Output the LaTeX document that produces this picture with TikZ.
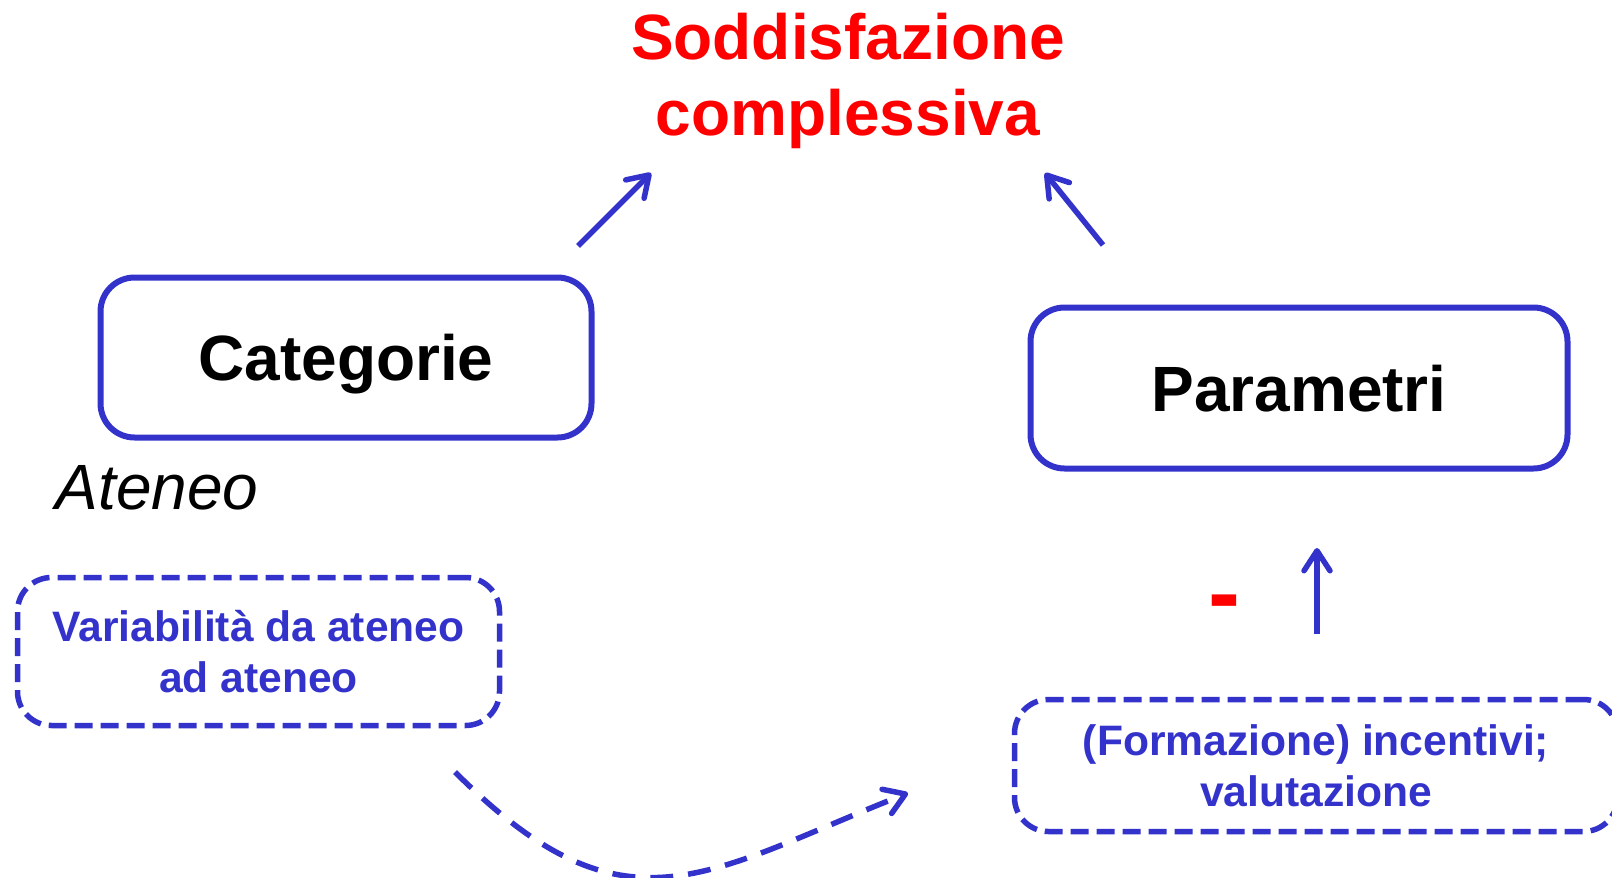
\documentclass[tikz,border=0pt]{standalone}
\usepackage{fontspec}
\setmainfont{Liberation Sans}
\usetikzlibrary{arrows.meta}
\definecolor{lineblue}{RGB}{51,51,204}
\newcommand{\hugebold}{\fontsize{64}{76}\selectfont\bfseries}
\newcommand{\hugeital}{\fontsize{64}{76}\selectfont\itshape}
\newcommand{\smallbold}{\fontsize{42.6}{51}\selectfont\bfseries}

\begin{document}
\begin{tikzpicture}[x=1pt,y=-1pt,
  box/.style={draw=lineblue, line width=6pt, rounded corners=34pt, inner sep=0pt,
    font=\hugebold, text height=46pt, text depth=0pt},
  dbox/.style={draw=lineblue, line width=5.5pt, dash pattern=on 18pt off 8pt,
    rounded corners=34pt, inner sep=0pt, align=center, text=lineblue,
    font=\smallbold, text height=81pt, text depth=0pt},
  arr/.style={lineblue, line width=5.5pt, -{Straight Barb[length=20pt,width=26pt,round]}}]
  \useasboundingbox (0,0) rectangle (1612,878);
  % titolo
  \node[align=center, text=red, font=\hugebold, inner sep=0pt, outer sep=0pt,
    text height=122pt, text depth=0pt, anchor=south] (sodd) at (848,135.5) {Soddisfazione\\complessiva};
  % riquadri
  \node[box, minimum width=491pt, minimum height=160pt] (cat) at (346,357.5) {Categorie};
  \node[box, minimum width=537pt, minimum height=161pt] (par) at (1299,388) {Parametri};
  \node[anchor=base west, font=\hugeital] (aten) at (52,509) {Ateneo};
  \node[dbox, minimum width=482pt, minimum height=148pt] (var) at (258.5,651.5) {Variabilità da ateneo\\ad ateneo};
  \node[dbox, minimum width=603pt, minimum height=132pt] (form) at (1316,765.5) {(Formazione) incentivi;\\valutazione};
  \node[anchor=base, text=red, font=\fontsize{96}{96}\selectfont\bfseries] (meno) at (1224,625) {-};
  % frecce
  \coordinate (catout) at (578,246);
  \coordinate (sodin1) at (651,173);
  \coordinate (parout) at (1103,245);
  \coordinate (sodin2) at (1045,173);
  \coordinate (formout) at (1317,634);
  \coordinate (parin) at (1317,548);
  \coordinate (varout) at (455,772);
  \coordinate (formin) at (908,793);
  \draw[arr] (catout) -- (sodin1);
  \draw[arr] (parout) -- (sodin2);
  \draw[arr] (formout) -- (parin);
  \draw[arr, dash pattern=on 23pt off 15pt] (varout) .. controls (625,942) and (703,874) .. (formin);
\end{tikzpicture}
\end{document}
